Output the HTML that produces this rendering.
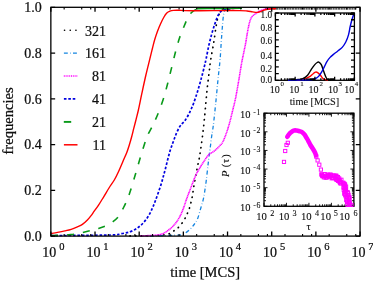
<!DOCTYPE html>
<html><head><meta charset="utf-8"><style>
html,body{margin:0;padding:0;background:#fff;}
body{width:373px;height:281px;overflow:hidden;}
svg{display:block;will-change:transform;}
text{font-family:"Liberation Serif",serif;stroke:#000;stroke-width:0.22px;}
.ins text{stroke-width:0.1px;}
</style></head><body>
<svg width="373" height="281" viewBox="0 0 373 281">
<g fill="none" stroke-linejoin="round">
<path d="M265,8.9H356" stroke="#222" stroke-width="1.3" stroke-dasharray="2.2 0.5"/>
<path d="M130,235.9C133.33,235.87 145,235.8 150,235.7C155,235.6 157.33,235.48 160,235.3C162.67,235.12 164.25,234.97 166,234.6C167.75,234.23 169.02,233.85 170.5,233.1C171.98,232.35 173.42,231.22 174.9,230.1C176.38,228.98 177.9,228.02 179.4,226.4C180.9,224.78 182.65,222.4 183.9,220.4C185.15,218.4 186.03,216.27 186.9,214.4C187.77,212.53 188.47,211.02 189.1,209.2C189.73,207.38 190.22,205.37 190.7,203.5C191.18,201.63 191.63,199.83 192,198C192.37,196.17 192.6,194.42 192.9,192.5C193.2,190.58 193.37,189.08 193.8,186.5C194.23,183.92 194.87,180.42 195.5,177C196.13,173.58 197.02,168.87 197.6,166C198.18,163.13 198.62,161.73 199,159.8C199.38,157.87 199.53,156.77 199.9,154.4C200.27,152.03 200.7,149.2 201.2,145.6C201.7,142 202.38,137.07 202.9,132.8C203.42,128.53 203.8,125.02 204.3,120C204.8,114.98 205.4,108.08 205.9,102.7C206.4,97.32 206.77,92.68 207.3,87.7C207.83,82.72 208.55,77.33 209.1,72.8C209.65,68.27 209.83,65.52 210.6,60.5C211.37,55.48 212.82,48.17 213.7,42.7C214.58,37.23 215.18,31.97 215.9,27.7C216.62,23.43 217.12,19.9 218,17.1C218.88,14.3 220.03,12.15 221.2,10.9C222.37,9.65 223.2,10.02 225,9.6C226.8,9.18 229.5,8.7 232,8.4C234.5,8.1 238.67,7.9 240,7.8" stroke="#000" stroke-width="1.7" stroke-linecap="round" stroke-dasharray="0.35 5.25"/>
<path d="M150,236C152.5,235.93 160.83,235.73 165,235.6C169.17,235.47 172.1,235.37 175,235.2C177.9,235.03 179.92,235.57 182.4,234.6C184.88,233.63 187.9,231.15 189.9,229.4C191.9,227.65 193.1,225.93 194.4,224.1C195.7,222.27 196.62,221.13 197.7,218.4C198.78,215.67 199.95,210.95 200.9,207.7C201.85,204.45 202.72,201.93 203.4,198.9C204.08,195.87 204.52,192.62 205,189.5C205.48,186.38 205.82,184.12 206.3,180.2C206.78,176.28 207.45,169.87 207.9,166C208.35,162.13 208.57,160.4 209,157C209.43,153.6 210.05,149.1 210.5,145.6C210.95,142.1 211.35,138.48 211.7,136C212.05,133.52 212.25,133.17 212.6,130.7C212.95,128.23 213.27,125.9 213.8,121.2C214.33,116.5 215.2,108.43 215.8,102.5C216.4,96.57 216.92,90.55 217.4,85.6C217.88,80.65 218.25,77.15 218.7,72.8C219.15,68.45 219.68,64.52 220.1,59.5C220.52,54.48 220.83,48 221.2,42.7C221.57,37.4 221.93,32.15 222.3,27.7C222.67,23.25 222.93,18.95 223.4,16C223.87,13.05 224,11.25 225.1,10C226.2,8.75 228.18,8.85 230,8.5C231.82,8.15 235,8 236,7.9" stroke="#1585e0" stroke-width="1.3" stroke-dasharray="3.9 2.3 0.6 2.3"/>
<path d="M140,236C141.67,235.92 146.67,235.73 150,235.5C153.33,235.27 157.08,235.37 160,234.6C162.92,233.83 165.02,232.65 167.5,230.9C169.98,229.15 172.78,226.6 174.9,224.1C177.02,221.6 178.7,218.75 180.2,215.9C181.7,213.05 182.83,209.83 183.9,207C184.97,204.17 185.42,202.17 186.6,198.9C187.78,195.63 189.52,191.25 191,187.4C192.48,183.55 194.02,179.07 195.5,175.8C196.98,172.53 198.42,170.32 199.9,167.8C201.38,165.28 202.92,162.9 204.4,160.7C205.88,158.5 207.33,156.08 208.8,154.6C210.27,153.12 211.83,152.8 213.2,151.8C214.57,150.8 215.87,149.65 217,148.6C218.13,147.55 219.03,146.6 220,145.5C220.97,144.4 221.68,144.22 222.8,142C223.92,139.78 225.55,135.47 226.7,132.2C227.85,128.93 228.72,125.98 229.7,122.4C230.68,118.82 231.62,114.77 232.6,110.7C233.58,106.63 234.57,103.08 235.6,98C236.63,92.92 237.78,86.1 238.8,80.2C239.82,74.3 240.88,67.17 241.7,62.6C242.52,58.03 243.05,55.98 243.7,52.8C244.35,49.62 244.95,47.05 245.6,43.5C246.25,39.95 246.92,35.12 247.6,31.5C248.28,27.88 248.98,24.25 249.7,21.8C250.42,19.35 250.93,18.13 251.9,16.8C252.87,15.47 254.27,14.72 255.5,13.8C256.73,12.88 257.98,12 259.3,11.3C260.62,10.6 261.95,10.02 263.4,9.6C264.85,9.18 266.57,8.98 268,8.8C269.43,8.62 271.33,8.55 272,8.5" stroke="#ff00ff" stroke-width="1.55" stroke-dasharray="1.2 0.45"/>
<path d="M51,235.6C60.83,235.5 98.38,235.3 110,235C121.62,234.7 117.37,234.33 120.7,233.8C124.03,233.27 127.2,232.77 130,231.8C132.8,230.83 135.22,229.57 137.5,228C139.78,226.43 141.83,224.47 143.7,222.4C145.57,220.33 147.25,217.98 148.7,215.6C150.15,213.22 151.33,210.45 152.4,208.1C153.47,205.75 154.17,203.93 155.1,201.5C156.03,199.07 156.98,196.42 158,193.5C159.02,190.58 160.32,186.83 161.2,184C162.08,181.17 162.63,178.9 163.3,176.5C163.97,174.1 164.48,172.35 165.2,169.6C165.92,166.85 166.8,163.1 167.6,160C168.4,156.9 169.18,153.7 170,151C170.82,148.3 171.7,146.05 172.5,143.8C173.3,141.55 174.07,139.43 174.8,137.5C175.53,135.57 176.1,133.97 176.9,132.2C177.7,130.43 178.72,128.33 179.6,126.9C180.48,125.47 181.32,124.63 182.2,123.6C183.08,122.57 183.83,122.22 184.9,120.7C185.97,119.18 187.55,116.45 188.6,114.5C189.65,112.55 190.35,110.92 191.2,109C192.05,107.08 192.63,105.95 193.7,103C194.77,100.05 196.3,95.53 197.6,91.3C198.9,87.07 200.35,81.83 201.5,77.6C202.65,73.37 203.72,69.08 204.5,65.9C205.28,62.72 205.5,61.8 206.2,58.5C206.9,55.2 207.8,50.12 208.7,46.1C209.6,42.08 210.62,37.98 211.6,34.4C212.58,30.82 213.62,27.55 214.6,24.6C215.58,21.65 216.53,18.83 217.5,16.7C218.47,14.57 219.25,12.93 220.4,11.8C221.55,10.67 222.8,10.4 224.4,9.9C226,9.4 228.07,9.1 230,8.8C231.93,8.5 235,8.22 236,8.1" stroke="#0000e0" stroke-width="1.7" stroke-dasharray="2.6 1.8"/>
<path d="M51,235.6C52.5,235.55 56.75,235.47 60,235.3C63.25,235.13 67.5,234.9 70.5,234.6C73.5,234.3 75.3,234.02 78,233.5C80.7,232.98 84.2,232.1 86.7,231.5C89.2,230.9 91,230.42 93,229.9C95,229.38 96.6,229.05 98.7,228.4C100.8,227.75 103.22,227.13 105.6,226C107.98,224.87 110.83,223.2 113,221.6C115.17,220 116.83,218.75 118.6,216.4C120.37,214.05 122.12,210.4 123.6,207.5C125.08,204.6 126.35,201.83 127.5,199C128.65,196.17 129.22,194.48 130.5,190.5C131.78,186.52 133.65,180.3 135.2,175.1C136.75,169.9 138.23,164.53 139.8,159.3C141.37,154.07 143.23,147.83 144.6,143.7C145.97,139.57 146.85,137.15 148,134.5C149.15,131.85 150.42,129.97 151.5,127.8C152.58,125.63 153.43,123.8 154.5,121.5C155.57,119.2 156.4,117.85 157.9,114C159.4,110.15 161.85,103.57 163.5,98.4C165.15,93.23 166.42,88.25 167.8,83C169.18,77.75 170.48,72.2 171.8,66.9C173.12,61.6 174.42,56.02 175.7,51.2C176.98,46.38 178.13,42.08 179.5,38C180.87,33.92 182.47,30.18 183.9,26.7C185.33,23.22 186.87,19.42 188.1,17.1C189.33,14.78 190.05,14.02 191.3,12.8C192.55,11.58 193.82,10.48 195.6,9.8C197.38,9.12 200.93,8.88 202,8.7" stroke="#0a9a1a" stroke-width="1.6" stroke-dasharray="7 9"/>
<path d="M196.5,8.75C199.58,8.71 209.42,8.56 215,8.5C220.58,8.44 225.5,8.45 230,8.4C234.5,8.35 240,8.23 242,8.2" stroke="#0a9a1a" stroke-width="1.5"/>
<path d="M51,233.5C52.08,233.32 55.18,232.83 57.5,232.4C59.82,231.97 62.62,231.42 64.9,230.9C67.18,230.38 69.12,229.98 71.2,229.3C73.28,228.62 75.53,227.63 77.4,226.8C79.27,225.97 80.73,225.45 82.4,224.3C84.07,223.15 85.95,221.35 87.4,219.9C88.85,218.45 89.97,217.05 91.1,215.6C92.23,214.15 92.93,212.98 94.2,211.2C95.47,209.42 97.12,207.3 98.7,204.9C100.28,202.5 101.93,199.7 103.7,196.8C105.47,193.9 107.53,190.3 109.3,187.5C111.07,184.7 112.73,182.72 114.3,180C115.87,177.28 117.25,174.33 118.7,171.2C120.15,168.07 121.65,164.32 123,161.2C124.35,158.08 125.75,155.2 126.8,152.5C127.85,149.8 128.5,147.58 129.3,145C130.1,142.42 130.87,139.72 131.6,137C132.33,134.28 132.95,131.65 133.7,128.7C134.45,125.75 135.32,122.42 136.1,119.3C136.88,116.18 137.45,114.27 138.4,110C139.35,105.73 140.55,99.53 141.8,93.7C143.05,87.87 144.55,80.83 145.9,75C147.25,69.17 148.82,63.12 149.9,58.7C150.98,54.28 151.62,51.62 152.4,48.5C153.18,45.38 153.75,42.88 154.6,40C155.45,37.12 156.5,33.92 157.5,31.2C158.5,28.48 159.57,25.98 160.6,23.7C161.63,21.42 162.67,19.27 163.7,17.5C164.73,15.73 165.77,14.15 166.8,13.1C167.83,12.05 168.77,11.65 169.9,11.2C171.03,10.75 172.15,10.55 173.6,10.4C175.05,10.25 176.7,10.27 178.6,10.3C180.5,10.33 181.43,10.52 185,10.6C188.57,10.68 194.17,10.8 200,10.8C205.83,10.8 213.33,10.63 220,10.6C226.67,10.57 235.5,10.53 240,10.6C244.5,10.67 244.88,10.78 247,11C249.12,11.22 251.03,11.67 252.7,11.9C254.37,12.13 255.75,12.43 257,12.4C258.25,12.37 259.13,12.05 260.2,11.7C261.27,11.35 262.17,10.7 263.4,10.3C264.63,9.9 266.17,9.55 267.6,9.3C269.03,9.05 270.6,8.88 272,8.8C273.4,8.72 275.33,8.8 276,8.8" stroke="#ff0000" stroke-width="1.4"/>
</g>
<g stroke="#000" fill="none">
<rect x="50.85" y="7.3" width="309.2" height="228.8" stroke-width="1.3"/>
<path d="M50.85,236.1h4.3M360.05,236.1h-4.3M50.85,190.34h4.3M360.05,190.34h-4.3M50.85,144.58h4.3M360.05,144.58h-4.3M50.85,98.82h4.3M360.05,98.82h-4.3M50.85,53.06h4.3M360.05,53.06h-4.3M50.85,7.3h4.3M360.05,7.3h-4.3M50.85,236.1v-4.5M50.85,7.3v4.5M95.02,236.1v-4.5M95.02,7.3v4.5M139.19,236.1v-4.5M139.19,7.3v4.5M183.36,236.1v-4.5M183.36,7.3v4.5M227.54,236.1v-4.5M227.54,7.3v4.5M271.71,236.1v-4.5M271.71,7.3v4.5M315.88,236.1v-4.5M315.88,7.3v4.5M360.05,236.1v-4.5M360.05,7.3v4.5" stroke-width="1.3"/>
<path d="M64.15,236.1v-2.2M64.15,7.3v2.2M81.72,236.1v-2.2M81.72,7.3v2.2M90.74,236.1v-2.2M90.74,7.3v2.2M108.32,236.1v-2.2M108.32,7.3v2.2M125.9,236.1v-2.2M125.9,7.3v2.2M134.91,236.1v-2.2M134.91,7.3v2.2M152.49,236.1v-2.2M152.49,7.3v2.2M170.07,236.1v-2.2M170.07,7.3v2.2M179.08,236.1v-2.2M179.08,7.3v2.2M196.66,236.1v-2.2M196.66,7.3v2.2M214.24,236.1v-2.2M214.24,7.3v2.2M223.26,236.1v-2.2M223.26,7.3v2.2M240.83,236.1v-2.2M240.83,7.3v2.2M258.41,236.1v-2.2M258.41,7.3v2.2M267.43,236.1v-2.2M267.43,7.3v2.2M285,236.1v-2.2M285,7.3v2.2M302.58,236.1v-2.2M302.58,7.3v2.2M311.6,236.1v-2.2M311.6,7.3v2.2M329.18,236.1v-2.2M329.18,7.3v2.2M346.75,236.1v-2.2M346.75,7.3v2.2M355.77,236.1v-2.2M355.77,7.3v2.2" stroke-width="1.1" stroke="#000"/>
</g>
<g style='font-family:"Liberation Serif",serif' fill="#111">
<text x="41.8" y="240.9" font-size="14" text-anchor="end">0.0</text>
<text x="41.8" y="195.14" font-size="14" text-anchor="end">0.2</text>
<text x="41.8" y="149.38" font-size="14" text-anchor="end">0.4</text>
<text x="41.8" y="103.62" font-size="14" text-anchor="end">0.6</text>
<text x="41.8" y="57.86" font-size="14" text-anchor="end">0.8</text>
<text x="41.8" y="12.1" font-size="14" text-anchor="end">1.0</text>
<text x="42.25" y="256.8" font-size="14">10</text>
<text x="59.15" y="249.8" font-size="10.5">0</text>
<text x="86.42" y="256.8" font-size="14">10</text>
<text x="103.32" y="249.8" font-size="10.5">1</text>
<text x="130.59" y="256.8" font-size="14">10</text>
<text x="147.49" y="249.8" font-size="10.5">2</text>
<text x="174.76" y="256.8" font-size="14">10</text>
<text x="191.66" y="249.8" font-size="10.5">3</text>
<text x="218.94" y="256.8" font-size="14">10</text>
<text x="235.84" y="249.8" font-size="10.5">4</text>
<text x="263.11" y="256.8" font-size="14">10</text>
<text x="280.01" y="249.8" font-size="10.5">5</text>
<text x="307.28" y="256.8" font-size="14">10</text>
<text x="324.18" y="249.8" font-size="10.5">6</text>
<text x="351.45" y="256.8" font-size="14">10</text>
<text x="368.35" y="249.8" font-size="10.5">7</text>
<text x="205.2" y="277.2" font-size="14.5" text-anchor="middle">time [MCS]</text>
<text transform="translate(12.8,120.9) rotate(-90)" font-size="14.6" text-anchor="middle">frequencies</text>
<text x="106" y="35.7" font-size="14" text-anchor="end">321</text>
<text x="106" y="58.3" font-size="14" text-anchor="end">161</text>
<text x="106" y="81.1" font-size="14" text-anchor="end">81</text>
<text x="106" y="104" font-size="14" text-anchor="end">41</text>
<text x="106" y="127.1" font-size="14" text-anchor="end">21</text>
<text x="106" y="149.9" font-size="14" text-anchor="end">11</text>
</g>
<g fill="none">
<path d="M64.5,30.3H77" stroke="#000" stroke-width="1.6" stroke-linecap="round" stroke-dasharray="0.1 5.6"/>
<path d="M63.9,53.1H77" stroke="#1585e0" stroke-width="1.3" stroke-dasharray="3.9 2.3 0.6 2.3"/>
<path d="M63.8,76H77.3" stroke="#ff00ff" stroke-width="1.3" stroke-dasharray="1 0.8"/>
<path d="M63.9,98.8H77" stroke="#0000e0" stroke-width="1.7" stroke-dasharray="2.6 1.8"/>
<path d="M63.8,121.9H77.5" stroke="#0a9a1a" stroke-width="1.9" stroke-dasharray="7.4 7"/>
<path d="M63.9,144.8H77.5" stroke="#ff0000" stroke-width="1.5"/>
</g>
<rect x="275.4" y="13" width="79" height="67.3" fill="#fff" stroke="#000" stroke-width="1.3"/>
<g fill="none" stroke-width="1.4">
<path d="M297,80.1C297.97,79.98 300.77,79.93 302.8,79.4C304.83,78.87 307.47,77.85 309.2,76.9C310.93,75.95 312.13,74.5 313.2,73.7C314.27,72.9 314.8,72.25 315.6,72.1C316.4,71.95 317.2,72.27 318,72.8C318.8,73.33 319.58,74.35 320.4,75.3C321.22,76.25 322.22,77.82 322.9,78.5C323.58,79.18 323.65,79.13 324.5,79.4C325.35,79.67 327.42,79.98 328,80.1" stroke="#ff0000"/>
<path d="M293,80.1C293.83,80 296.37,79.75 298,79.5C299.63,79.25 301.2,79.3 302.8,78.6C304.4,77.9 306.13,76.93 307.6,75.3C309.07,73.67 310.4,70.58 311.6,68.8C312.8,67.02 313.87,65.65 314.8,64.6C315.73,63.55 316.53,62.9 317.2,62.5C317.87,62.1 318.12,61.85 318.8,62.2C319.48,62.55 320.48,63.08 321.3,64.6C322.12,66.12 322.9,69.15 323.7,71.3C324.5,73.45 325.43,76.17 326.1,77.5C326.77,78.83 326.88,78.87 327.7,79.3C328.52,79.73 330.45,79.97 331,80.1" stroke="#000"/>
<path d="M288,80.2C290.83,80.17 301.2,80.08 305,80C308.8,79.92 309.03,79.95 310.8,79.7C312.57,79.45 314.27,79.1 315.6,78.5C316.93,77.9 317.73,77.3 318.8,76.1C319.87,74.9 321.05,72.92 322,71.3C322.95,69.68 323.68,68.02 324.5,66.4C325.32,64.78 325.97,63.1 326.9,61.6C327.83,60.1 329,58.6 330.1,57.4C331.2,56.2 332.22,55.47 333.5,54.4C334.78,53.33 336.35,52.17 337.8,51C339.25,49.83 340.87,48.9 342.2,47.4C343.53,45.9 344.75,44.08 345.8,42C346.85,39.92 347.77,37.48 348.5,34.9C349.23,32.32 349.62,29.07 350.2,26.5C350.78,23.93 351.4,21.58 352,19.5C352.6,17.42 353.5,14.92 353.8,14" stroke="#0000dd"/>
</g>
<path d="M275.4,80.3h3.4M354.4,80.3h-3.4M275.4,73.57h3.4M354.4,73.57h-3.4M275.4,66.84h3.4M354.4,66.84h-3.4M275.4,60.11h3.4M354.4,60.11h-3.4M275.4,53.38h3.4M354.4,53.38h-3.4M275.4,46.65h3.4M354.4,46.65h-3.4M275.4,39.92h3.4M354.4,39.92h-3.4M275.4,33.19h3.4M354.4,33.19h-3.4M275.4,26.46h3.4M354.4,26.46h-3.4M275.4,19.73h3.4M354.4,19.73h-3.4M275.4,13h3.4M354.4,13h-3.4M275.4,80.3v-3.5M275.4,13v3.5M295.15,80.3v-3.5M295.15,13v3.5M314.9,80.3v-3.5M314.9,13v3.5M334.65,80.3v-3.5M334.65,13v3.5M354.4,80.3v-3.5M354.4,13v3.5M281.35,80.3v-2M281.35,13v2M284.82,80.3v-2M284.82,13v2M287.29,80.3v-2M287.29,13v2M289.2,80.3v-2M289.2,13v2M290.77,80.3v-2M290.77,13v2M292.09,80.3v-2M292.09,13v2M293.24,80.3v-2M293.24,13v2M294.25,80.3v-2M294.25,13v2M301.1,80.3v-2M301.1,13v2M304.57,80.3v-2M304.57,13v2M307.04,80.3v-2M307.04,13v2M308.95,80.3v-2M308.95,13v2M310.52,80.3v-2M310.52,13v2M311.84,80.3v-2M311.84,13v2M312.99,80.3v-2M312.99,13v2M314,80.3v-2M314,13v2M320.85,80.3v-2M320.85,13v2M324.32,80.3v-2M324.32,13v2M326.79,80.3v-2M326.79,13v2M328.7,80.3v-2M328.7,13v2M330.27,80.3v-2M330.27,13v2M331.59,80.3v-2M331.59,13v2M332.74,80.3v-2M332.74,13v2M333.75,80.3v-2M333.75,13v2M340.6,80.3v-2M340.6,13v2M344.07,80.3v-2M344.07,13v2M346.54,80.3v-2M346.54,13v2M348.45,80.3v-2M348.45,13v2M350.02,80.3v-2M350.02,13v2M351.34,80.3v-2M351.34,13v2M352.49,80.3v-2M352.49,13v2M353.5,80.3v-2M353.5,13v2" stroke="#000" stroke-width="1.3" fill="none"/>
<g style='font-family:"Liberation Serif",serif' fill="#111" class="ins">
<text x="272.2" y="82.8" font-size="9.3" text-anchor="end">0.0</text>
<text x="272.2" y="72.1" font-size="9.3" text-anchor="end">0.2</text>
<text x="272.2" y="59" font-size="9.3" text-anchor="end">0.4</text>
<text x="272.2" y="44.4" font-size="9.3" text-anchor="end">0.6</text>
<text x="272.2" y="31.3" font-size="9.3" text-anchor="end">0.8</text>
<text x="272.2" y="18.3" font-size="9.3" text-anchor="end">1.0</text>
<text x="269.7" y="92.8" font-size="10">10</text>
<text x="280.6" y="86.4" font-size="6.9">0</text>
<text x="289.3" y="92.8" font-size="10">10</text>
<text x="300.3" y="86.4" font-size="6.9">1</text>
<text x="308.5" y="92.8" font-size="10">10</text>
<text x="319.5" y="86.4" font-size="6.9">2</text>
<text x="328" y="92.8" font-size="10">10</text>
<text x="338.4" y="86.4" font-size="6.9">3</text>
<text x="344.3" y="92.8" font-size="10">10</text>
<text x="354.7" y="86.4" font-size="6.9">4</text>
<text x="314.4" y="104.9" font-size="10.3" text-anchor="middle">time [MCS]</text>
</g>
<rect x="264" y="113.2" width="89.9" height="93.1" fill="#fff" stroke="#000" stroke-width="1.3"/>
<path d="M264,206.3h3.5M353.9,206.3h-3.5M264,200.69h2M353.9,200.69h-2M264,197.42h2M353.9,197.42h-2M264,195.09h2M353.9,195.09h-2M264,193.29h2M353.9,193.29h-2M264,191.81h2M353.9,191.81h-2M264,190.56h2M353.9,190.56h-2M264,189.48h2M353.9,189.48h-2M264,188.53h2M353.9,188.53h-2M264,187.68h3.5M353.9,187.68h-3.5M264,182.07h2M353.9,182.07h-2M264,178.8h2M353.9,178.8h-2M264,176.47h2M353.9,176.47h-2M264,174.67h2M353.9,174.67h-2M264,173.19h2M353.9,173.19h-2M264,171.94h2M353.9,171.94h-2M264,170.86h2M353.9,170.86h-2M264,169.91h2M353.9,169.91h-2M264,169.06h3.5M353.9,169.06h-3.5M264,163.45h2M353.9,163.45h-2M264,160.18h2M353.9,160.18h-2M264,157.85h2M353.9,157.85h-2M264,156.05h2M353.9,156.05h-2M264,154.57h2M353.9,154.57h-2M264,153.32h2M353.9,153.32h-2M264,152.24h2M353.9,152.24h-2M264,151.29h2M353.9,151.29h-2M264,150.44h3.5M353.9,150.44h-3.5M264,144.83h2M353.9,144.83h-2M264,141.56h2M353.9,141.56h-2M264,139.23h2M353.9,139.23h-2M264,137.43h2M353.9,137.43h-2M264,135.95h2M353.9,135.95h-2M264,134.7h2M353.9,134.7h-2M264,133.62h2M353.9,133.62h-2M264,132.67h2M353.9,132.67h-2M264,131.82h3.5M353.9,131.82h-3.5M264,126.21h2M353.9,126.21h-2M264,122.94h2M353.9,122.94h-2M264,120.61h2M353.9,120.61h-2M264,118.81h2M353.9,118.81h-2M264,117.33h2M353.9,117.33h-2M264,116.08h2M353.9,116.08h-2M264,115h2M353.9,115h-2M264,114.05h2M353.9,114.05h-2M264,113.2h3.5M353.9,113.2h-3.5M264,206.3v-3.5M264,113.2v3.5M270.77,206.3v-2M270.77,113.2v2M274.72,206.3v-2M274.72,113.2v2M277.53,206.3v-2M277.53,113.2v2M279.71,206.3v-2M279.71,113.2v2M281.49,206.3v-2M281.49,113.2v2M282.99,206.3v-2M282.99,113.2v2M284.3,206.3v-2M284.3,113.2v2M285.45,206.3v-2M285.45,113.2v2M286.48,206.3v-3.5M286.48,113.2v3.5M293.24,206.3v-2M293.24,113.2v2M297.2,206.3v-2M297.2,113.2v2M300.01,206.3v-2M300.01,113.2v2M302.18,206.3v-2M302.18,113.2v2M303.96,206.3v-2M303.96,113.2v2M305.47,206.3v-2M305.47,113.2v2M306.77,206.3v-2M306.77,113.2v2M307.92,206.3v-2M307.92,113.2v2M308.95,206.3v-3.5M308.95,113.2v3.5M315.72,206.3v-2M315.72,113.2v2M319.67,206.3v-2M319.67,113.2v2M322.48,206.3v-2M322.48,113.2v2M324.66,206.3v-2M324.66,113.2v2M326.44,206.3v-2M326.44,113.2v2M327.94,206.3v-2M327.94,113.2v2M329.25,206.3v-2M329.25,113.2v2M330.4,206.3v-2M330.4,113.2v2M331.42,206.3v-3.5M331.42,113.2v3.5M338.19,206.3v-2M338.19,113.2v2M342.15,206.3v-2M342.15,113.2v2M344.96,206.3v-2M344.96,113.2v2M347.13,206.3v-2M347.13,113.2v2M348.91,206.3v-2M348.91,113.2v2M350.42,206.3v-2M350.42,113.2v2M351.72,206.3v-2M351.72,113.2v2M352.87,206.3v-2M352.87,113.2v2M353.9,206.3v-3.5M353.9,113.2v3.5" stroke="#000" stroke-width="0.9" fill="none"/>
<path d="M287.3,136.8C287.55,136.43 288.23,135.3 288.8,134.6C289.37,133.9 289.9,133.27 290.7,132.6C291.5,131.93 292.63,130.95 293.6,130.6C294.57,130.25 295.52,130.4 296.5,130.5C297.48,130.6 298.53,130.9 299.5,131.2C300.47,131.5 301.45,131.73 302.3,132.3C303.15,132.87 303.9,133.68 304.6,134.6C305.3,135.52 305.85,136.68 306.5,137.8C307.15,138.92 307.85,140.1 308.5,141.3C309.15,142.5 309.65,143.72 310.4,145C311.15,146.28 312.22,147.72 313,149C313.78,150.28 314.6,151.63 315.1,152.7C315.6,153.77 315.85,154.95 316,155.4" stroke="#f0f" stroke-width="4.6" fill="none" stroke-linejoin="round" stroke-linecap="round"/>
<g fill="none" stroke="#f0f" stroke-width="0.95"><rect x="319.82" y="172.72" width="3.2" height="3.2"/><rect x="320.18" y="173.26" width="3.2" height="3.2"/><rect x="320.56" y="173.78" width="3.2" height="3.2"/><rect x="320.77" y="174.54" width="3.2" height="3.2"/><rect x="321.5" y="174.51" width="3.2" height="3.2"/><rect x="322.29" y="175.72" width="3.2" height="3.2"/><rect x="323.1" y="172.53" width="3.2" height="3.2"/><rect x="323.55" y="174.16" width="3.2" height="3.2"/><rect x="323.99" y="176" width="3.2" height="3.2"/><rect x="324.64" y="174.94" width="3.2" height="3.2"/><rect x="325.14" y="175.97" width="3.2" height="3.2"/><rect x="325.94" y="172.94" width="3.2" height="3.2"/><rect x="326.42" y="174.38" width="3.2" height="3.2"/><rect x="327.1" y="173.57" width="3.2" height="3.2"/><rect x="327.49" y="174.83" width="3.2" height="3.2"/><rect x="328.03" y="175.03" width="3.2" height="3.2"/><rect x="328.89" y="172.88" width="3.2" height="3.2"/><rect x="329.33" y="173.77" width="3.2" height="3.2"/><rect x="329.86" y="174.09" width="3.2" height="3.2"/><rect x="330.06" y="176.69" width="3.2" height="3.2"/><rect x="330.7" y="176.17" width="3.2" height="3.2"/><rect x="331.77" y="173.89" width="3.2" height="3.2"/><rect x="331.62" y="176.49" width="3.2" height="3.2"/><rect x="332.86" y="174.11" width="3.2" height="3.2"/><rect x="332.89" y="176.1" width="3.2" height="3.2"/><rect x="333.95" y="174.36" width="3.2" height="3.2"/><rect x="334.62" y="174.03" width="3.2" height="3.2"/><rect x="334.23" y="177.53" width="3.2" height="3.2"/><rect x="335.47" y="175.13" width="3.2" height="3.2"/><rect x="336.4" y="175.5" width="3.2" height="3.2"/><rect x="334.97" y="178.28" width="3.2" height="3.2"/><rect x="335.7" y="178.29" width="3.2" height="3.2"/><rect x="337.59" y="176.81" width="3.2" height="3.2"/><rect x="336.39" y="179.28" width="3.2" height="3.2"/><rect x="337.89" y="178.31" width="3.2" height="3.2"/><rect x="338" y="179.1" width="3.2" height="3.2"/><rect x="339.82" y="178.16" width="3.2" height="3.2"/><rect x="337.92" y="180.5" width="3.2" height="3.2"/><rect x="339.1" y="180.38" width="3.2" height="3.2"/><rect x="338.64" y="181.57" width="3.2" height="3.2"/><rect x="339.27" y="181.88" width="3.2" height="3.2"/><rect x="341.64" y="181.08" width="3.2" height="3.2"/><rect x="341.67" y="181.78" width="3.2" height="3.2"/><rect x="342.65" y="182.07" width="3.2" height="3.2"/><rect x="342.98" y="182.64" width="3.2" height="3.2"/><rect x="343.54" y="183.11" width="3.2" height="3.2"/><rect x="342.95" y="184.15" width="3.2" height="3.2"/><rect x="342.01" y="185.13" width="3.2" height="3.2"/><rect x="344.48" y="184.97" width="3.2" height="3.2"/><rect x="342.12" y="186.43" width="3.2" height="3.2"/><rect x="343.62" y="186.59" width="3.2" height="3.2"/><rect x="343.92" y="187.16" width="3.2" height="3.2"/><rect x="342.18" y="188.36" width="3.2" height="3.2"/><rect x="343.65" y="188.57" width="3.2" height="3.2"/><rect x="344.46" y="188.96" width="3.2" height="3.2"/><rect x="344" y="189.74" width="3.2" height="3.2"/><rect x="343.32" y="190.58" width="3.2" height="3.2"/><rect x="345.97" y="190.43" width="3.2" height="3.2"/><rect x="342.63" y="192.07" width="3.2" height="3.2"/><rect x="346.45" y="191.57" width="3.2" height="3.2"/><rect x="343.84" y="192.99" width="3.2" height="3.2"/><rect x="343.66" y="193.68" width="3.2" height="3.2"/><rect x="346.99" y="193.29" width="3.2" height="3.2"/><rect x="344.22" y="194.76" width="3.2" height="3.2"/><rect x="346.01" y="194.84" width="3.2" height="3.2"/><rect x="345.37" y="195.67" width="3.2" height="3.2"/><rect x="347.73" y="195.58" width="3.2" height="3.2"/><rect x="347.76" y="196.2" width="3.2" height="3.2"/><rect x="347.43" y="196.95" width="3.2" height="3.2"/><rect x="344.65" y="198.38" width="3.2" height="3.2"/><rect x="347.66" y="198.14" width="3.2" height="3.2"/><rect x="345.77" y="199.32" width="3.2" height="3.2"/><rect x="345.32" y="200.07" width="3.2" height="3.2"/><rect x="345.47" y="200.66" width="3.2" height="3.2"/><rect x="347.65" y="200.46" width="3.2" height="3.2"/><rect x="347.96" y="201.01" width="3.2" height="3.2"/><rect x="347.89" y="201.84" width="3.2" height="3.2"/><rect x="347.73" y="202.75" width="3.2" height="3.2"/><rect x="345.9" y="203.3" width="3.2" height="3.2"/><rect x="347.9" y="203.3" width="3.2" height="3.2"/><rect x="349.9" y="203.3" width="3.2" height="3.2"/><rect x="286.2" y="141.2" width="3.2" height="3.2"/><rect x="284.9" y="143.4" width="3.2" height="3.2"/><rect x="283.6" y="149.4" width="3.2" height="3.2"/><rect x="282.4" y="160.3" width="3.2" height="3.2"/><rect x="314.7" y="155" width="3.2" height="3.2"/><rect x="316" y="158.8" width="3.2" height="3.2"/><rect x="317.7" y="163.1" width="3.2" height="3.2"/><rect x="319.3" y="168" width="3.2" height="3.2"/></g>
<g style='font-family:"Liberation Serif",serif' fill="#111" class="ins">
<text x="250.6" y="211.1" font-size="10.5" text-anchor="end">10</text>
<text x="253.2" y="207.6" font-size="7.8">-<tspan dx="0.6">6</tspan></text>
<text x="250.6" y="192.48" font-size="10.5" text-anchor="end">10</text>
<text x="253.2" y="188.98" font-size="7.8">-<tspan dx="0.6">5</tspan></text>
<text x="250.6" y="173.86" font-size="10.5" text-anchor="end">10</text>
<text x="253.2" y="170.36" font-size="7.8">-<tspan dx="0.6">4</tspan></text>
<text x="250.6" y="155.24" font-size="10.5" text-anchor="end">10</text>
<text x="253.2" y="151.74" font-size="7.8">-<tspan dx="0.6">3</tspan></text>
<text x="250.6" y="136.62" font-size="10.5" text-anchor="end">10</text>
<text x="253.2" y="133.12" font-size="7.8">-<tspan dx="0.6">2</tspan></text>
<text x="250.6" y="118" font-size="10.5" text-anchor="end">10</text>
<text x="253.2" y="114.5" font-size="7.8">-<tspan dx="0.6">1</tspan></text>
<text x="256.25" y="219.6" font-size="10.7">10</text>
<text x="270.3" y="215.5" font-size="8.2">2</text>
<text x="278.75" y="219.6" font-size="10.7">10</text>
<text x="292.5" y="215.5" font-size="8.2">3</text>
<text x="300.95" y="219.6" font-size="10.7">10</text>
<text x="314.9" y="215.5" font-size="8.2">4</text>
<text x="320.35" y="219.6" font-size="10.7">10</text>
<text x="333.7" y="215.5" font-size="8.2">5</text>
<text x="339.15" y="219.6" font-size="10.7">10</text>
<text x="353.4" y="215.5" font-size="8.2">6</text>
<text x="308.6" y="229.5" font-size="10.5" text-anchor="middle">&#964;</text>
<text transform="translate(229.4,165.6) rotate(-90)" font-size="10.5" text-anchor="middle"><tspan font-style="italic">P</tspan><tspan dx="3.2">(</tspan><tspan dx="0.9">&#964;</tspan><tspan dx="0.9">)</tspan></text>
</g>
</svg>
</body></html>
